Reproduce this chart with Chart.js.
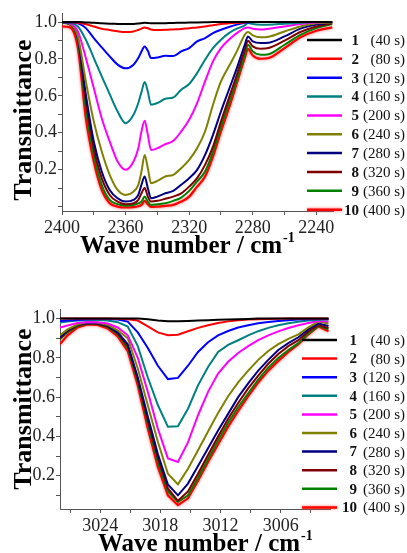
<!DOCTYPE html>
<html>
<head>
<meta charset="utf-8">
<script src="https://cdn.jsdelivr.net/npm/chart.js@4.4.1/dist/chart.umd.min.js"></script>
<style>
  html, body { margin: 0; padding: 0; background: #fff; }
  .panel { position: absolute; left: 0; width: 407px; }
  #co2Panel { top: 0; height: 280px; }
  #ch4Panel { top: 280px; height: 273px; }
</style>
</head>
<body>
<div class="panel" id="co2Panel"><canvas id="co2Chart"></canvas></div>
<div class="panel" id="ch4Panel"><canvas id="ch4Chart"></canvas></div>
<script>
// exposure times, one spectrum each
const timeLabels = ['40 s', '80 s', '120 s', '160 s', '200 s', '240 s', '280 s', '320 s', '360 s', '400 s'];

// tick positions (labels on every other one)
const transTicks = [0.0, 0.1, 0.2, 0.3, 0.4, 0.5, 0.6, 0.7, 0.8, 0.9, 1.0];
const co2Ticks = [2400, 2380, 2360, 2340, 2320, 2300, 2280, 2260, 2240];
const ch4Ticks = [3027, 3024, 3021, 3018, 3015, 3012, 3009, 3006, 3003];

// CO2 band, wave number (cm-1)
const co2Wn = [2400, 2395, 2390, 2385, 2380, 2375, 2370, 2365, 2360, 2355, 2352, 2350, 2348, 2346, 2344, 2340, 2335,
  2330, 2325, 2320, 2315, 2310, 2305, 2300, 2295, 2290, 2285, 2283, 2280, 2275, 2270, 2260, 2250, 2240, 2230];

const co2_40 = [1.0, 1.0, 1.0, 0.998, 0.996, 0.993, 0.991, 0.990, 0.989, 0.990, 0.992, 0.994, 0.996, 0.995, 0.993, 0.993, 0.994,
  0.995, 0.996, 0.997, 0.998, 0.999, 1.0, 1.0, 1.0, 1.0, 1.0, 1.0, 1.0, 1.0, 1.0, 1.0, 1.0, 1.0, 1.0];
const co2_80 = [1.0, 0.999, 0.996, 0.988, 0.976, 0.964, 0.957, 0.950, 0.946, 0.949, 0.957, 0.964, 0.971, 0.966, 0.960, 0.957, 0.958,
  0.960, 0.962, 0.967, 0.971, 0.976, 0.982, 0.989, 0.993, 0.996, 0.998, 1.0, 1.0, 1.0, 1.0, 1.0, 1.0, 1.0, 1.0];
const co2_120 = [1.0, 0.998, 0.993, 0.967, 0.913, 0.863, 0.814, 0.769, 0.749, 0.769, 0.805, 0.840, 0.868, 0.844, 0.805, 0.808, 0.817,
  0.816, 0.841, 0.859, 0.895, 0.913, 0.940, 0.958, 0.973, 0.986, 0.996, 0.998, 1.0, 1.0, 1.0, 1.0, 1.0, 1.0, 1.0];
const co2_160 = [1.0, 0.996, 0.976, 0.904, 0.805, 0.705, 0.609, 0.515, 0.452, 0.497, 0.561, 0.620, 0.675, 0.624, 0.552, 0.561, 0.584,
  0.591, 0.633, 0.664, 0.723, 0.796, 0.859, 0.904, 0.940, 0.964, 0.982, 0.995, 0.989, 0.986, 0.986, 0.991, 0.996, 1.0, 1.0];
const co2_200 = [1.0, 0.993, 0.949, 0.805, 0.642, 0.479, 0.353, 0.244, 0.199, 0.244, 0.316, 0.407, 0.465, 0.389, 0.307, 0.316, 0.338,
  0.356, 0.407, 0.470, 0.561, 0.678, 0.787, 0.859, 0.904, 0.940, 0.967, 0.971, 0.964, 0.960, 0.964, 0.976, 0.989, 0.998, 1.0];
const co2_240 = [1.0, 0.989, 0.922, 0.678, 0.461, 0.298, 0.172, 0.090, 0.063, 0.081, 0.118, 0.190, 0.280, 0.208, 0.127, 0.139, 0.163,
  0.172, 0.208, 0.253, 0.316, 0.407, 0.552, 0.678, 0.760, 0.841, 0.931, 0.946, 0.928, 0.917, 0.920, 0.949, 0.976, 0.993, 0.998];
const co2_280 = [1.0, 0.989, 0.913, 0.606, 0.353, 0.190, 0.090, 0.045, 0.027, 0.036, 0.063, 0.118, 0.163, 0.099, 0.045, 0.054, 0.072,
  0.085, 0.118, 0.154, 0.199, 0.280, 0.389, 0.515, 0.633, 0.750, 0.877, 0.922, 0.895, 0.886, 0.888, 0.922, 0.964, 0.986, 0.996];
const co2_320 = [1.0, 0.987, 0.910, 0.570, 0.316, 0.154, 0.063, 0.027, 0.013, 0.018, 0.036, 0.072, 0.100, 0.054, 0.027, 0.031, 0.042,
  0.054, 0.072, 0.108, 0.154, 0.226, 0.325, 0.461, 0.588, 0.714, 0.850, 0.899, 0.868, 0.855, 0.859, 0.899, 0.946, 0.976, 0.993];
const co2_360 = [0.996, 0.986, 0.895, 0.533, 0.280, 0.118, 0.036, 0.013, 0.005, 0.009, 0.018, 0.027, 0.054, 0.027, 0.009, 0.013, 0.018,
  0.031, 0.049, 0.085, 0.136, 0.190, 0.298, 0.434, 0.561, 0.687, 0.823, 0.877, 0.841, 0.823, 0.826, 0.877, 0.931, 0.967, 0.989];
const co2_400 = [0.976, 0.971, 0.859, 0.479, 0.244, 0.090, 0.018, 0.0, -0.005, -0.003, 0.002, 0.009, 0.031, 0.013, -0.002, 0.0, 0.004,
  0.009, 0.027, 0.054, 0.108, 0.163, 0.271, 0.407, 0.533, 0.669, 0.805, 0.855, 0.819, 0.801, 0.805, 0.859, 0.917, 0.953, 0.971];

// CH4 band, wave number (cm-1)
const ch4Wn = [3028.0, 3027.25, 3026.25, 3025.25, 3024.25, 3023.25, 3022.25, 3021.25, 3020.25, 3019.25, 3018.25, 3017.25, 3016.25, 3015.25,
  3014.25, 3013.25, 3012.25, 3011.25, 3010.25, 3009.25, 3008.25, 3007.25, 3006.25, 3005.25, 3004.25, 3003.25, 3002.25, 3001.25];

const ch4_40 = [1.0, 1.0, 1.0, 1.0, 1.0, 1.0, 1.0, 1.0, 1.0, 0.997, 0.990, 0.986, 0.986, 0.988,
  0.990, 0.992, 0.994, 0.995, 0.997, 0.998, 1.0, 1.0, 1.0, 1.0, 1.0, 1.0, 1.0, 1.0];
const ch4_80 = [1.0, 1.0, 1.0, 1.0, 1.0, 1.0, 0.999, 0.997, 0.990, 0.960, 0.930, 0.915, 0.918, 0.936,
  0.953, 0.966, 0.978, 0.986, 0.992, 0.995, 0.997, 0.998, 0.999, 1.0, 1.0, 1.0, 1.0, 1.0];
const ch4_120 = [0.988, 0.990, 0.993, 0.997, 0.998, 0.998, 0.995, 0.985, 0.930, 0.850, 0.760, 0.692, 0.698, 0.760,
  0.830, 0.880, 0.915, 0.937, 0.955, 0.966, 0.976, 0.983, 0.988, 0.992, 0.995, 0.997, 0.998, 0.998];
const ch4_160 = [0.980, 0.985, 0.990, 0.993, 0.993, 0.990, 0.982, 0.960, 0.860, 0.700, 0.560, 0.449, 0.452, 0.541,
  0.660, 0.754, 0.830, 0.866, 0.890, 0.915, 0.936, 0.953, 0.966, 0.976, 0.984, 0.990, 0.994, 0.995];
const ch4_200 = [0.954, 0.965, 0.978, 0.983, 0.982, 0.975, 0.955, 0.915, 0.800, 0.627, 0.440, 0.288, 0.270, 0.370,
  0.508, 0.627, 0.720, 0.780, 0.825, 0.860, 0.890, 0.915, 0.935, 0.952, 0.966, 0.978, 0.988, 0.985];
const ch4_240 = [0.915, 0.945, 0.970, 0.983, 0.980, 0.968, 0.940, 0.900, 0.746, 0.559, 0.373, 0.210, 0.156, 0.235,
  0.330, 0.425, 0.520, 0.605, 0.675, 0.735, 0.790, 0.835, 0.870, 0.897, 0.920, 0.955, 0.985, 0.975];
const ch4_280 = [0.905, 0.940, 0.968, 0.978, 0.976, 0.963, 0.930, 0.870, 0.700, 0.500, 0.310, 0.155, 0.100, 0.160,
  0.250, 0.340, 0.430, 0.515, 0.600, 0.670, 0.735, 0.790, 0.840, 0.875, 0.905, 0.945, 0.975, 0.962];
const ch4_320 = [0.900, 0.935, 0.965, 0.976, 0.974, 0.960, 0.925, 0.860, 0.690, 0.480, 0.290, 0.135, 0.072, 0.120,
  0.210, 0.305, 0.400, 0.490, 0.570, 0.645, 0.710, 0.770, 0.820, 0.860, 0.890, 0.935, 0.966, 0.952];
const ch4_360 = [0.895, 0.930, 0.962, 0.975, 0.972, 0.957, 0.920, 0.850, 0.680, 0.465, 0.270, 0.120, 0.066, 0.100,
  0.190, 0.285, 0.380, 0.470, 0.550, 0.620, 0.690, 0.750, 0.800, 0.840, 0.875, 0.925, 0.962, 0.945];
const ch4_400 = [0.870, 0.915, 0.955, 0.970, 0.968, 0.950, 0.910, 0.835, 0.660, 0.440, 0.245, 0.100, 0.050, 0.085,
  0.175, 0.270, 0.360, 0.450, 0.530, 0.605, 0.675, 0.735, 0.785, 0.830, 0.870, 0.920, 0.960, 0.935];

const lineColors = ['#000000', '#ff0000', '#0000ff', '#008080', '#ff00ff', '#808000', '#000080', '#800000', '#008000', '#ff0000'];
const serif = '"Liberation Serif", "Times New Roman", serif';

function makeDatasets(wn, series, smooth) {
  return series.map((vals, i) => ({
    label: timeLabels[i],
    data: wn.map((x, k) => ({ x: x, y: vals[k] })),
    borderColor: lineColors[i],
    borderWidth: i === 9 ? 2.2 : 2,
    pointRadius: 0,
    fill: false,
    tension: smooth ? 0.4 : 0,
    cubicInterpolationMode: smooth ? 'monotone' : 'default'
  }));
}

// last spectrum gets a soft red glow
const glowPlugin = {
  id: 'glow',
  beforeDatasetDraw(chart, args) {
    chart.ctx.save();
    if (args.index === 9) {
      chart.ctx.shadowColor = 'rgba(255, 70, 70, 0.9)';
      chart.ctx.shadowBlur = 3;
    }
  },
  afterDatasetDraw(chart) {
    chart.ctx.restore();
  }
};

// axis titles and the numbered legend
const decorPlugin = {
  id: 'decor',
  afterDraw(chart, args, o) {
    const ctx = chart.ctx;
    ctx.save();
    ctx.fillStyle = '#000';
    ctx.translate(o.yTitleX, o.yTitleY);
    ctx.rotate(-Math.PI / 2);
    ctx.textAlign = 'center';
    ctx.textBaseline = 'alphabetic';
    ctx.font = 'bold 26px ' + serif;
    ctx.fillText('Transmittance', 0, 0);
    ctx.restore();

    ctx.save();
    ctx.fillStyle = '#000';
    ctx.textBaseline = 'alphabetic';
    ctx.textAlign = 'left';
    ctx.font = 'bold 25px ' + serif;
    const main = 'Wave number / cm';
    ctx.fillText(main, o.xTitleX, o.xTitleY);
    const w = ctx.measureText(main).width;
    ctx.font = 'bold 14px ' + serif;
    ctx.fillText('-1', o.xTitleX + w + 1, o.xTitleY - 11);

    chart.data.datasets.forEach((ds, i) => {
      const y = o.legendTop + i * o.legendStep;
      ctx.save();
      if (i === 9) {
        ctx.shadowColor = 'rgba(255, 70, 70, 0.9)';
        ctx.shadowBlur = 3;
      }
      ctx.strokeStyle = ds.borderColor;
      ctx.lineWidth = 2.5;
      ctx.beginPath();
      ctx.moveTo(o.lineFrom, y);
      ctx.lineTo(o.lineTo, y);
      ctx.stroke();
      ctx.restore();
      ctx.fillStyle = '#111';
      ctx.textBaseline = 'middle';
      ctx.textAlign = 'right';
      ctx.font = 'bold 15px ' + serif;
      ctx.fillText(String(i + 1), o.numRight, y + 1);
      ctx.font = '15px ' + serif;
      ctx.fillText('(' + ds.label + ')', o.textRight, y + 1);
    });
    ctx.restore();
  }
};

function useTicks(values) {
  return s => {
    s.ticks = values.filter(v => v >= s.min - 1e-9 && v <= s.max + 1e-9).map(v => ({ value: v }));
  };
}

function axisX(min, max, tickValues, every, h) {
  return {
    type: 'linear', reverse: true, min: min, max: max,
    border: { color: '#555', width: 1 },
    grid: { drawOnChartArea: false, tickLength: 4, color: '#555' },
    afterBuildTicks: useTicks(tickValues),
    ticks: {
      autoSkip: false, maxRotation: 0, padding: 2,
      color: '#222', font: { family: serif, size: 18 },
      callback: v => (Math.round(v) % every === 0 ? String(Math.round(v)) : '')
    },
    afterFit: s => { s.height = h; }
  };
}

function axisY(min, max, w) {
  return {
    min: min, max: max,
    border: { color: '#555', width: 1 },
    grid: { drawOnChartArea: false, tickLength: 4, color: '#555' },
    afterBuildTicks: useTicks(transTicks),
    ticks: {
      autoSkip: false, padding: 1,
      color: '#222', font: { family: serif, size: 18 },
      callback: v => { const k = Math.round(v * 10); return (k > 0 && k % 2 === 0) ? (k / 10).toFixed(1) : ''; }
    },
    afterFit: s => { s.width = w; }
  };
}

new Chart(document.getElementById('co2Chart'), {
  type: 'line',
  data: { datasets: makeDatasets(co2Wn, [co2_40, co2_80, co2_120, co2_160, co2_200, co2_240, co2_280, co2_320, co2_360, co2_400], true) },
  options: {
    responsive: true, maintainAspectRatio: false, animation: false,
    layout: { padding: { left: 0, top: 13, right: 74, bottom: 0 } },
    scales: { x: axisX(2229.5, 2400, co2Ticks, 40, 69), y: axisY(-0.024, 1.049, 62) },
    plugins: {
      legend: { display: false }, tooltip: { enabled: false },
      decor: { yTitleX: 31, yTitleY: 120, xTitleX: 80, xTitleY: 253,
        legendTop: 40, legendStep: 18.85, lineFrom: 307, lineTo: 342, numRight: 359, textRight: 405 }
    }
  },
  plugins: [glowPlugin, decorPlugin]
});

new Chart(document.getElementById('ch4Chart'), {
  type: 'line',
  data: { datasets: makeDatasets(ch4Wn, [ch4_40, ch4_80, ch4_120, ch4_160, ch4_200, ch4_240, ch4_280, ch4_320, ch4_360, ch4_400], false) },
  options: {
    responsive: true, maintainAspectRatio: false, animation: false,
    layout: { padding: { left: 0, top: 29, right: 77, bottom: 0 } },
    scales: { x: axisX(3001.1, 3028, ch4Ticks, 6, 44), y: axisY(0.0305, 1.049, 60) },
    plugins: {
      legend: { display: false }, tooltip: { enabled: false },
      decor: { yTitleX: 31, yTitleY: 129, xTitleX: 98, xTitleY: 271,
        legendTop: 60, legendStep: 18.6, lineFrom: 302, lineTo: 337, numRight: 357, textRight: 405 }
    }
  },
  plugins: [glowPlugin, decorPlugin]
});
</script>
</body>
</html>
